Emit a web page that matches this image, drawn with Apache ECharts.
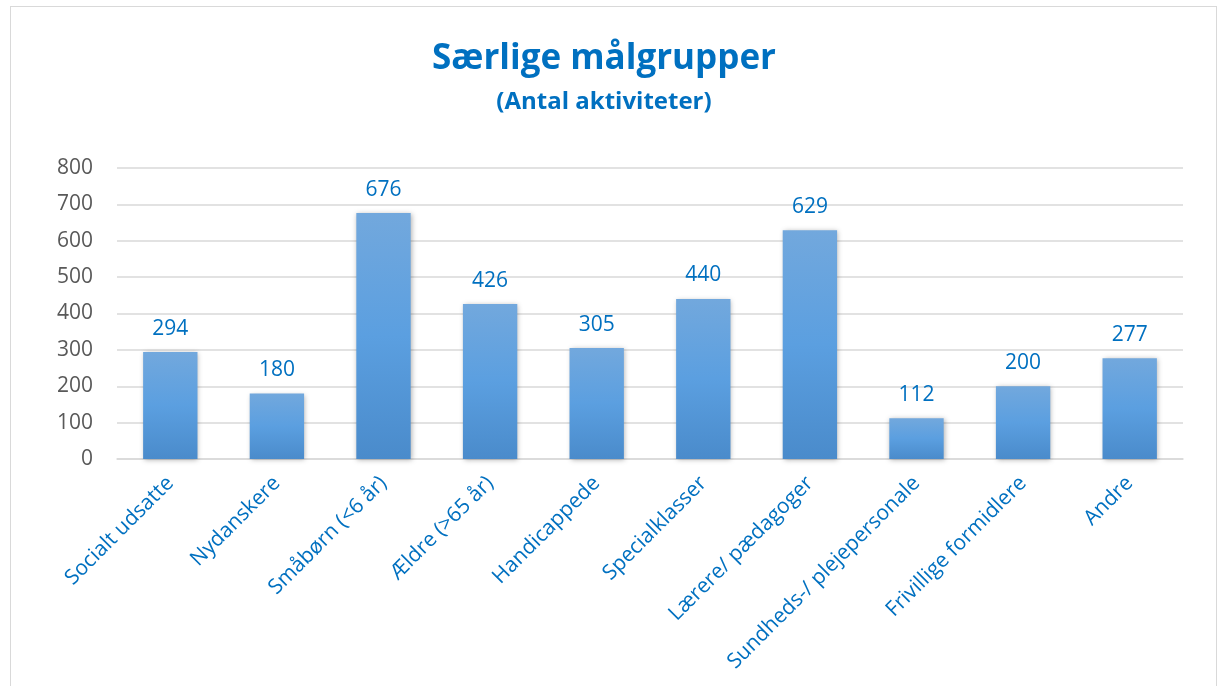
<!DOCTYPE html>
<html>
<head>
<meta charset="utf-8">
<script src="https://cdn.jsdelivr.net/npm/echarts@6/dist/echarts.min.js"></script>
<style>
html,body{margin:0;padding:0;background:#fff;}
#frame{position:absolute;left:10px;top:6px;width:1207px;height:700px;border:1px solid #d9d9d9;box-sizing:border-box;}
#chart{position:absolute;left:0;top:0;width:1220px;height:686px;}
</style>
</head>
<body>
<div id="frame"></div>
<div id="chart"></div>
<script>
const categories = ["Socialt udsatte","Nydanskere","Småbørn (<6 år)","Ældre (>65 år)","Handicappede","Specialklasser","Lærere/ pædagoger","Sundheds-/ plejepersonale","Frivillige formidlere","Andre"];
const values = [294,180,676,426,305,440,629,112,200,277];
const titleText = "Særlige målgrupper";
const subtitleText = "(Antal aktiviteter)";

const chart = echarts.init(document.getElementById('chart'), null, {renderer:'canvas'});
const font = "Open Sans";
chart.setOption({
  animation:false,
  backgroundColor:'transparent',
  title:{
    text:titleText,
    subtext:subtitleText,
    left:599,
    textAlign:'center',
    top:37,
    itemGap:13,
    textStyle:{fontFamily:font,fontSize:35,fontWeight:'bold',color:'#0070C0'},
    subtextStyle:{fontFamily:font,fontSize:24,fontWeight:'bold',color:'#0070C0'}
  },
  grid:{left:117,right:37,top:168,bottom:227,containLabel:false},
  xAxis:{
    type:'category',
    data:categories,
    axisLine:{lineStyle:{color:'#d9d9d9',width:1.5}},
    axisTick:{show:false},
    axisLabel:{rotate:45,interval:0,fontFamily:font,fontSize:21,color:'#0070C0',margin:21}
  },
  yAxis:{
    type:'value',
    min:0,max:800,interval:100,
    axisLine:{show:false},
    axisTick:{show:false},
    splitLine:{lineStyle:{color:'#d9d9d9',width:1.5}},
    axisLabel:{fontFamily:font,fontSize:21,color:'#595959',margin:24}
  },
  series:[{
    type:'bar',
    data:values,
    barWidth:'51%',
    itemStyle:{
      color:new echarts.graphic.LinearGradient(0,0,0,1,[
        {offset:0,color:'#72a8dd'},
        {offset:0.5,color:'#5b9fe0'},
        {offset:1,color:'#4a8bcb'}
      ]),
      shadowColor:'rgba(0,0,0,0.3)',
      shadowBlur:5,
      shadowOffsetX:1,
      shadowOffsetY:1
    },
    label:{show:true,position:'top',distance:13,fontFamily:font,fontSize:21,color:'#0070C0'}
  }]
});
</script>
</body>
</html>
